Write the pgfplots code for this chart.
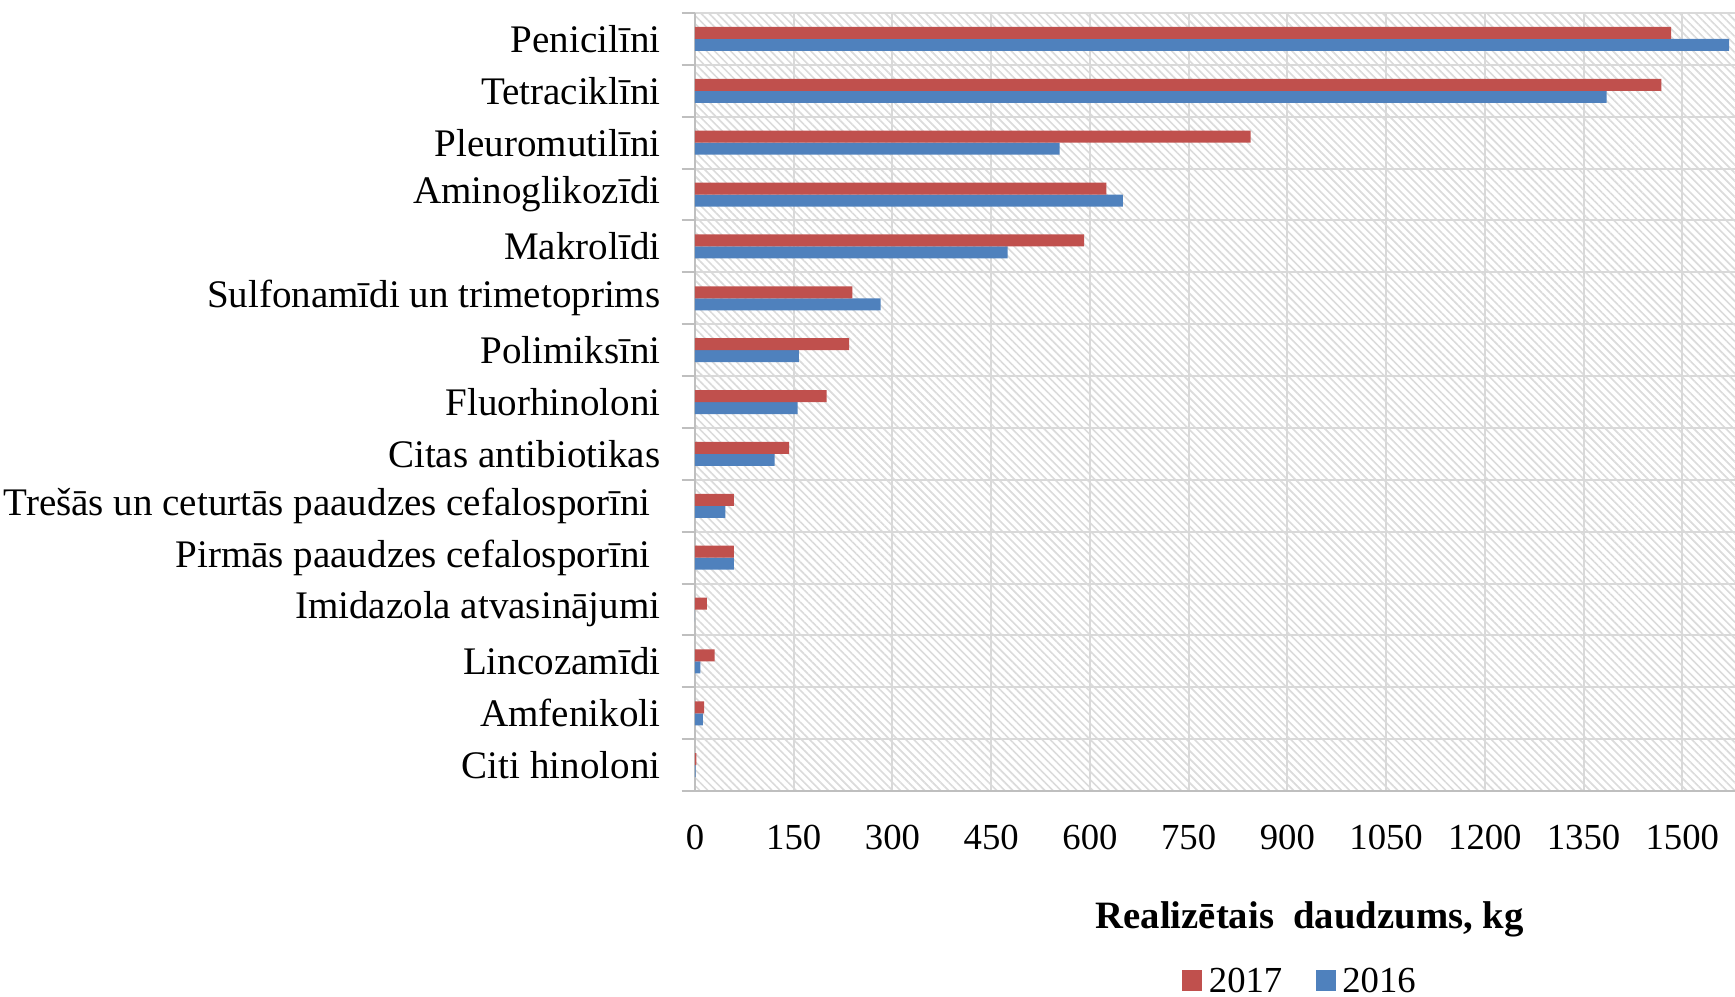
\documentclass[border=0pt]{standalone}
\usepackage{pgfplots}
\pgfplotsset{compat=1.18}
\usepackage{fontspec}
\setmainfont{Liberation Serif}
\usetikzlibrary{patterns.meta}
\definecolor{cRed}{HTML}{C0504D}
\definecolor{cBlue}{HTML}{4F81BD}
\begin{document}
\fontsize{11}{13}\selectfont
\begin{tikzpicture}
\useasboundingbox (-208.3pt,-61.7pt) rectangle (311.7pt,237.1pt);
\begin{axis}[
  at={(0pt,0pt)}, anchor=south west,
  scale only axis, width=311.7pt, height=233.2pt,
  xbar=0pt, bar width=3.6pt,
  xmin=0, xmax=1580, ymin=-0.5, ymax=14.5,
  xtick={0,150,...,1500},
  /pgf/number format/assume math mode=true,
  /pgf/number format/1000 sep={},
  ytick={0,...,14},
  yticklabels={Citi hinoloni, Amfenikoli, Lincozamīdi, Imidazola atvasinājumi, Pirmās paaudzes cefalosporīni\rule{3pt}{0pt}, Trešās un ceturtās paaudzes cefalosporīni\rule{3pt}{0pt}, Citas antibiotikas, Fluorhinoloni, Polimiksīni, Sulfonamīdi un trimetoprims, Makrolīdi, Aminoglikozīdi, Pleuromutilīni, Tetraciklīni, Penicilīni},
  minor ytick={-0.5,0.5,...,14.5},
  yminorgrids, xmajorgrids,
  grid style={draw=black!15, line width=0.6pt},
  minor grid style={draw=black!15, line width=0.6pt},
  axis x line*=bottom, axis y line*=left,
  axis line style={draw=black!25, line width=0.6pt, -},
  tick align=outside,
  major tick length=0pt,
  minor tick length=4pt,
  minor tick style={draw=black!25, line width=0.6pt},
  xticklabel style={yshift=-6.3pt},
  yticklabel style={xshift=-6.5pt, font=\fontsize{11.7}{13}\selectfont},
  axis background/.style={pattern={Lines[angle=-45,distance=1.7pt,line width=0.5pt]}, pattern color=black!14},
  xlabel={\fontsize{11.6}{13}\selectfont\bfseries Realizētais\ \ daudzums, kg},
  xlabel style={at={(0.591,0)}, anchor=base, yshift=-41.1pt},
  legend style={at={(0.584,-0.247)}, anchor=center, draw=none, fill=none, legend columns=2, /tikz/every even column/.append style={column sep=8pt}, font=\fontsize{11}{13}\selectfont},
  reverse legend,
  legend image code/.code={\path[#1] (0pt,-2.3pt) rectangle (6pt,3.9pt);},
]
\addplot[fill=cBlue, draw=none] coordinates {(1,0) (12,1) (8,2) (0,3) (59,4) (46,5) (121,6) (156,7) (158,8) (282,9) (475,10) (650,11) (554,12) (1385,13) (1571,14)};
\addplot[fill=cRed, draw=none] coordinates {(2,0) (14,1) (30,2) (18,3) (59,4) (59,5) (143,6) (200,7) (234,8) (239,9) (591,10) (625,11) (844,12) (1468,13) (1483,14)};
\legend{2016, 2017}
\end{axis}
\end{tikzpicture}
\end{document}
